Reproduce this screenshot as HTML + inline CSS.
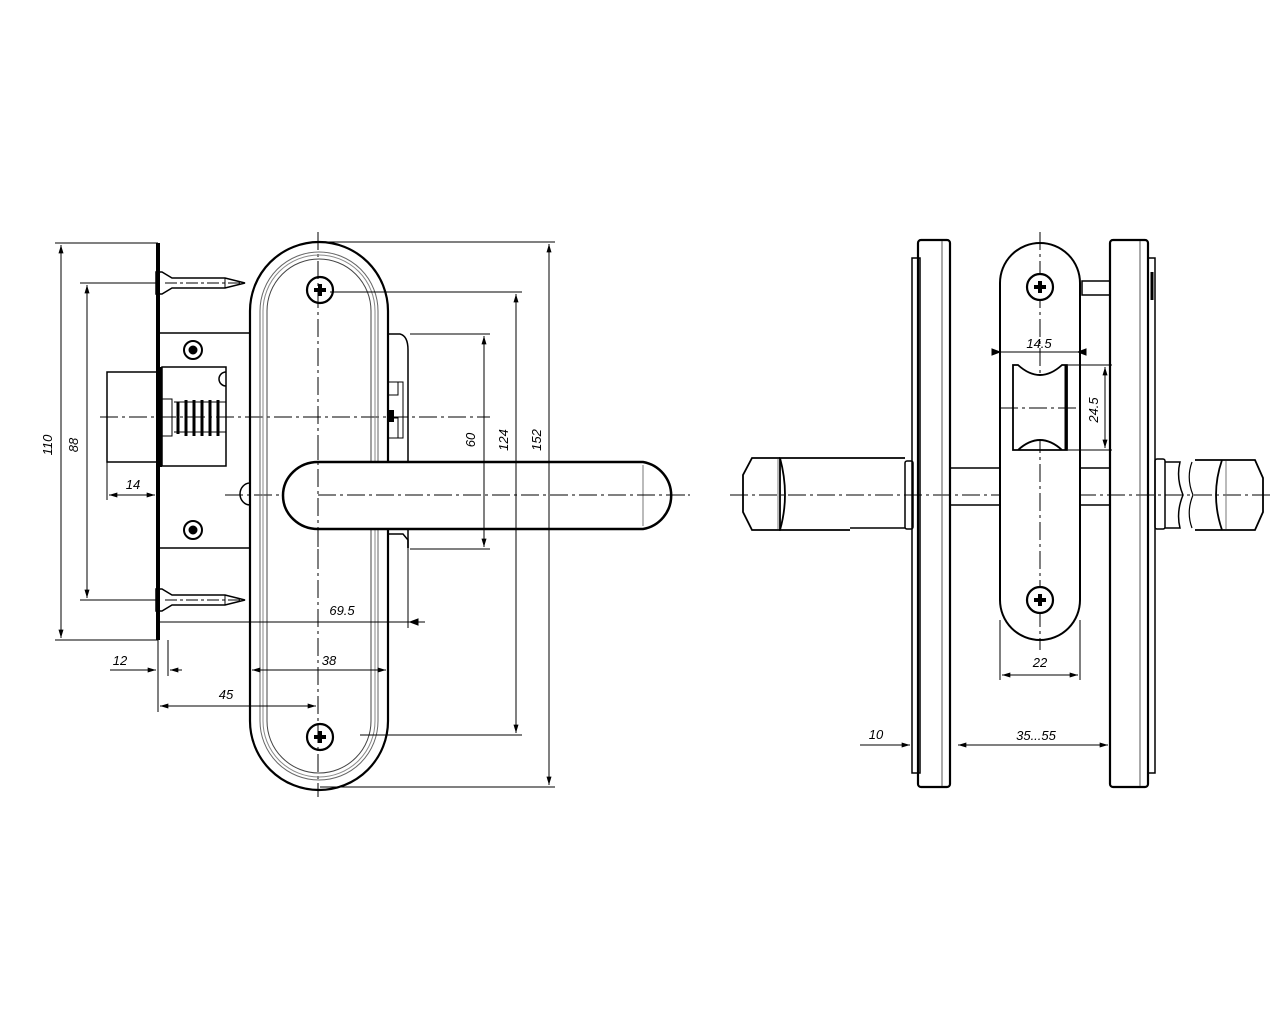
<!DOCTYPE html>
<html><head><meta charset="utf-8"><style>
html,body{margin:0;padding:0;background:#fff}
svg{display:block}
text{font-family:"Liberation Sans",sans-serif;font-style:italic;font-size:13px;fill:#000}
</style></head><body>
<svg width="1280" height="1024" viewBox="0 0 1280 1024" xmlns="http://www.w3.org/2000/svg">
<defs>
<marker id="a" viewBox="0 0 10 6" refX="10" refY="3" markerWidth="9" markerHeight="5" orient="auto-start-reverse"><path d="M0,0L10,3L0,6z" fill="#000"/></marker>
</defs>
<g fill="none" stroke="#000" stroke-width="1">
<!-- LEFT VIEW -->
<!-- centerlines -->
<line x1="100" y1="417" x2="490" y2="417" stroke-dasharray="18,4,3,4"/>
<line x1="225" y1="495" x2="690" y2="495" stroke-dasharray="18,4,3,4"/>
<line x1="318" y1="232" x2="318" y2="797" stroke-dasharray="18,4,3,4"/>
<line x1="165" y1="283" x2="240" y2="283" stroke-dasharray="12,3,3,3"/>
<line x1="165" y1="600" x2="240" y2="600" stroke-dasharray="12,3,3,3"/>
<!-- faceplate -->
<rect x="156" y="243" width="4" height="397" fill="#000" stroke="none"/>
<!-- screws -->
<path d="M156,272 L162,272 L172,278 L225,278 L245,283 L225,288 L172,288 L162,294 L156,294z" stroke-width="1.5"/>
<line x1="225" y1="278" x2="225" y2="288"/>
<path d="M156,589 L162,589 L172,595 L225,595 L245,600 L225,605 L172,605 L162,611 L156,611z" stroke-width="1.5"/>
<line x1="225" y1="595" x2="225" y2="605"/>
<!-- lock body -->
<path d="M160,333 L250,333 M160,548 L250,548" stroke-width="1.5"/>
<rect x="107" y="372" width="51" height="90" stroke-width="1.5"/>
<rect x="158" y="367" width="4" height="100" fill="#000" stroke="none"/>
<rect x="162" y="367" width="64" height="99" stroke-width="1.5"/>
<rect x="162" y="399" width="10" height="37"/>
<path d="M174,402 h52 M174,432 h52" stroke-width="1"/>
<g stroke-width="3"><line x1="178" y1="402" x2="178" y2="434"/><line x1="186" y1="400" x2="186" y2="436"/><line x1="194" y1="400" x2="194" y2="436"/><line x1="202" y1="400" x2="202" y2="436"/><line x1="210" y1="400" x2="210" y2="436"/><line x1="218" y1="400" x2="218" y2="436"/></g>
<path d="M226,372 a7,7 0 0 0 0,14" stroke-width="1.5"/>
<path d="M250,483 a10,11 0 0 0 0,22" stroke-width="1.5"/>
<circle cx="193" cy="350" r="9" stroke-width="2"/><circle cx="193" cy="350" r="4" fill="#000"/>
<circle cx="193" cy="530" r="9" stroke-width="2"/><circle cx="193" cy="530" r="4" fill="#000"/>
<!-- side block -->
<path d="M388,334 L400,334 Q408,336 408,350 L408,548" stroke-width="1.5"/>
<path d="M388,382 h10 v13 h-10 M388,418 h10 v20 h-10 M398,382 h5 v56 h-5"/>
<rect x="388" y="410" width="6" height="12" fill="#000" stroke="none"/>
<path d="M388,534 h15 l5,6 v8" stroke-width="1.5"/>
<!-- escutcheon -->
<path d="M250,311 A69,69 0 0 1 388,311 L388,721 A69,69 0 0 1 250,721 Z" stroke-width="2.2"/>
<path d="M260,311 A59,59 0 0 1 378,311 L378,721 A59,59 0 0 1 260,721 Z" stroke="#666"/>
<path d="M263,311 A56,56 0 0 1 375,311 L375,721 A56,56 0 0 1 263,721 Z" stroke="#888"/>
<path d="M267,311 A52,52 0 0 1 371,311 L371,721 A52,52 0 0 1 267,721 Z" stroke="#444"/>
<circle cx="320" cy="290" r="13" stroke-width="2.2"/>
<path d="M314,290h12M320,284v12" stroke-width="4"/>
<circle cx="320" cy="737" r="13" stroke-width="2.2"/>
<path d="M314,737h12M320,731v12" stroke-width="4"/>
<!-- handle -->
<path d="M318,462 L643,462 A34,34 0 0 1 643,529 L318,529 A35,33.5 0 0 1 318,462 Z" fill="#fff" stroke-width="2.5"/>
<line x1="643" y1="465" x2="643" y2="526" stroke="#777"/>
<line x1="318" y1="495" x2="690" y2="495" stroke-dasharray="18,4,3,4"/>
<line x1="318" y1="440" x2="318" y2="560" stroke-dasharray="18,4,3,4"/>
<!-- dims left -->
<path d="M55,243 H158 M80,283 H160 M55,640 H158 M80,600 H160"/>
<line x1="61" y1="245" x2="61" y2="638" marker-start="url(#a)" marker-end="url(#a)"/>
<line x1="87" y1="285" x2="87" y2="598" marker-start="url(#a)" marker-end="url(#a)"/>
<line x1="107" y1="462" x2="107" y2="500"/>
<line x1="109" y1="495" x2="155" y2="495" marker-start="url(#a)" marker-end="url(#a)"/>
<!-- dims right -->
<path d="M318,242 H555 M330,292 H522 M410,334 H490 M410,549 H490 M360,735 H522 M320,787 H555"/>
<line x1="549" y1="244" x2="549" y2="785" marker-start="url(#a)" marker-end="url(#a)"/>
<line x1="516" y1="294" x2="516" y2="733" marker-start="url(#a)" marker-end="url(#a)"/>
<line x1="484" y1="336" x2="484" y2="547" marker-start="url(#a)" marker-end="url(#a)"/>
<!-- dims bottom -->
<line x1="408" y1="548" x2="408" y2="628"/>
<line x1="160" y1="622" x2="425" y2="622"/>
<path d="M418,619 L410,622 L418,625z" fill="#000"/>
<line x1="158" y1="640" x2="158" y2="712"/>
<line x1="168" y1="640" x2="168" y2="676"/>
<line x1="110" y1="670" x2="156" y2="670" marker-end="url(#a)"/>
<line x1="182" y1="670" x2="170" y2="670" marker-end="url(#a)"/>
<line x1="252" y1="670" x2="386" y2="670" marker-start="url(#a)" marker-end="url(#a)"/>
<line x1="160" y1="706" x2="316" y2="706" marker-start="url(#a)" marker-end="url(#a)"/>

<!-- RIGHT VIEW -->
<line x1="730" y1="495" x2="1272" y2="495" stroke-dasharray="18,4,3,4"/>
<line x1="1040" y1="232" x2="1040" y2="650" stroke-dasharray="18,4,3,4"/>
<!-- left rose -->
<rect x="912" y="258" width="8" height="515" stroke-width="1.5"/>
<rect x="918" y="240" width="32" height="547" rx="3" stroke-width="2.2"/>
<line x1="942" y1="241" x2="942" y2="786" stroke="#555"/>
<!-- right rose -->
<rect x="1110" y="240" width="38" height="547" rx="3" stroke-width="2.2"/>
<rect x="1148" y="258" width="7" height="515" stroke-width="1.5"/>
<line x1="1140" y1="241" x2="1140" y2="786" stroke="#555"/>
<line x1="1152" y1="272" x2="1152" y2="300" stroke-width="3"/>
<!-- spindle -->
<path d="M950,468 H1000 M950,505 H1000 M1080,468 H1110 M1080,505 H1110" stroke-width="1.5"/>
<!-- pin -->
<rect x="1082" y="281" width="28" height="14" stroke-width="1.5"/>
<!-- center escutcheon -->
<path d="M1000,283 A40,40 0 0 1 1080,283 L1080,600 A40,40 0 0 1 1000,600 Z" fill="#fff" stroke-width="2"/>
<line x1="1040" y1="232" x2="1040" y2="650" stroke-dasharray="18,4,3,4"/>
<circle cx="1040" cy="287" r="13" fill="#fff" stroke-width="2.2"/>
<path d="M1034,287h12M1040,281v12" stroke-width="4"/>
<circle cx="1040" cy="600" r="13" fill="#fff" stroke-width="2.2"/>
<path d="M1034,600h12M1040,594v12" stroke-width="4"/>
<!-- latch -->
<path d="M1013,365 L1013,450 L1067,450 L1067,365 L1062,365 Q1040,385 1018,365 Z M1018,450 Q1040,430 1062,450" fill="#fff" stroke-width="1.8"/>
<line x1="1066" y1="365" x2="1066" y2="450" stroke-width="3"/>
<line x1="1000" y1="408" x2="1076" y2="408" stroke-dasharray="18,4,3,4"/>
<!-- left handle -->
<path d="M905,458 L780,458 L780,530 L850,530" stroke-width="1.8"/>
<line x1="850" y1="528" x2="905" y2="528" stroke-width="1.5"/>
<path d="M780,458 L752,458 L743,475 L743,512 L752,530 L780,530 Q790,495 780,458" stroke-width="1.8"/>
<line x1="778" y1="459" x2="778" y2="529" stroke="#777"/>
<rect x="905" y="461" width="8" height="68" rx="2" stroke-width="1.5"/>
<!-- right handle -->
<rect x="1155" y="459" width="10" height="70" rx="2" stroke-width="1.5"/>
<path d="M1165,462 H1180 Q1176,478 1183,495 Q1176,512 1180,528 H1165" stroke-width="1.5"/>
<path d="M1192,462 Q1186,478 1193,495 Q1186,512 1192,528" stroke-width="1.2"/>
<path d="M1195,460 H1255 L1263,478 L1263,512 L1255,530 H1195" stroke-width="1.8"/>
<path d="M1222,460 Q1210,495 1222,530" stroke-width="1.8"/>
<line x1="1226" y1="461" x2="1226" y2="529" stroke="#777"/>
<!-- right dims -->
<line x1="1000" y1="345" x2="1000" y2="362"/>
<line x1="1080" y1="345" x2="1080" y2="362"/>
<line x1="992" y1="352" x2="1085" y2="352"/>
<path d="M1000,352 l-8,-3 v6z M1078,352 l8,-3 v6z" fill="#000"/>
<path d="M1068,365 H1112 M1068,450 H1112"/>
<line x1="1105" y1="367" x2="1105" y2="448" marker-start="url(#a)" marker-end="url(#a)"/>
<line x1="1000" y1="620" x2="1000" y2="680"/>
<line x1="1080" y1="620" x2="1080" y2="680"/>
<line x1="1002" y1="675" x2="1078" y2="675" marker-start="url(#a)" marker-end="url(#a)"/>
<line x1="860" y1="745" x2="910" y2="745" marker-end="url(#a)"/>
<line x1="958" y1="745" x2="1108" y2="745" marker-start="url(#a)" marker-end="url(#a)"/>
</g>
<!-- labels -->
<text transform="translate(52,445) rotate(-90)" text-anchor="middle">110</text>
<text transform="translate(78,445) rotate(-90)" text-anchor="middle">88</text>
<text x="133" y="489" text-anchor="middle">14</text>
<text transform="translate(475,440) rotate(-90)" text-anchor="middle">60</text>
<text transform="translate(508,440) rotate(-90)" text-anchor="middle">124</text>
<text transform="translate(541,440) rotate(-90)" text-anchor="middle">152</text>
<text x="342" y="615" text-anchor="middle">69.5</text>
<text x="329" y="665" text-anchor="middle">38</text>
<text x="226" y="699" text-anchor="middle">45</text>
<text x="120" y="665" text-anchor="middle">12</text>
<text x="1039" y="348" text-anchor="middle" font-size="12">14.5</text>
<text transform="translate(1098,410) rotate(-90)" text-anchor="middle">24.5</text>
<text x="1040" y="667" text-anchor="middle">22</text>
<text x="876" y="739" text-anchor="middle">10</text>
<text x="1036" y="740" text-anchor="middle">35...55</text>
</svg>
</body></html>
